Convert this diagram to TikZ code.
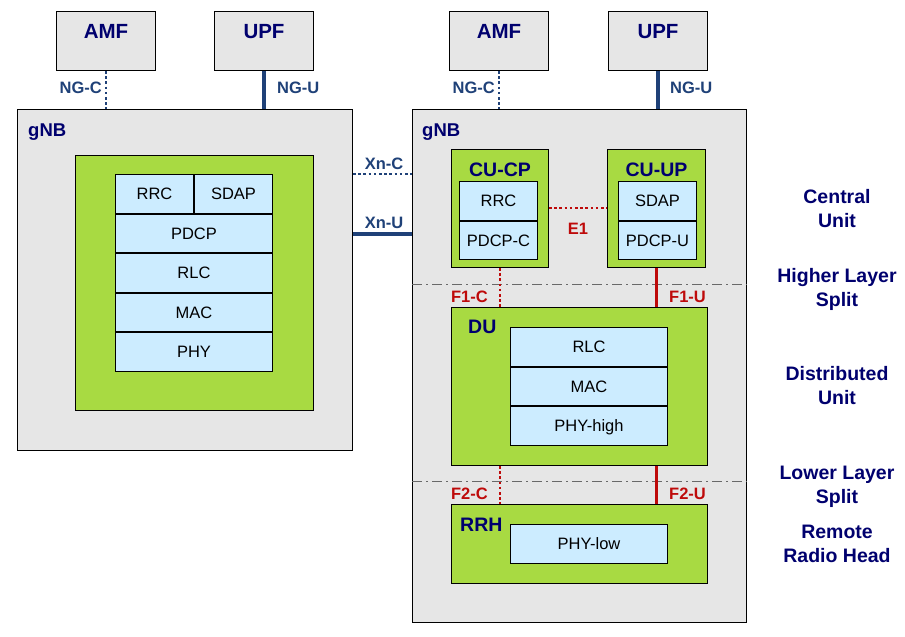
\documentclass[tikz,border=0pt]{standalone}
\usepackage{fontspec}
\setmainfont{Liberation Sans}
\usetikzlibrary{positioning}

\definecolor{coreGray}{RGB}{230,230,230}
\definecolor{ranGreen}{RGB}{168,218,66}
\definecolor{layerBlue}{RGB}{204,236,255}
\definecolor{navy}{RGB}{0,0,110}
\definecolor{ifBlue}{RGB}{31,65,120}
\definecolor{ifRed}{RGB}{190,10,10}
\definecolor{splitGray}{RGB}{105,105,105}

\begin{document}
\begin{tikzpicture}[x=1pt,y=-1pt,every node/.style={inner sep=0pt},
    core/.style={draw,fill=coreGray,line width=1pt,anchor=north west},
    ran/.style={draw,fill=ranGreen,line width=1pt,anchor=north west},
    layer/.style={draw,fill=layerBlue,line width=1pt,minimum width=157,minimum height=38.5,
      text height=12pt,text depth=0pt,font=\fontsize{16.5}{20}\selectfont},
    halflayer/.style={layer,minimum width=78},
    title/.style={text=navy,font=\fontsize{19.5}{23.5}\selectfont\bfseries},
    bigtitle/.style={text=navy,font=\fontsize{20.5}{24}\selectfont\bfseries},
    side/.style={title,align=center,anchor=base},
    ifname/.style={font=\fontsize{16.5}{20}\selectfont\bfseries},
    ctrl/.style={line width=2.6pt,dash pattern=on 2.6pt off 2.6pt},
    user/.style={line width=3.5pt},
    split/.style={splitGray,line width=1pt,dash pattern=on 10pt off 4pt on 2pt off 4pt}]

  \useasboundingbox (0,0) rectangle (905,637);

  % core network
  \node[core,minimum width=99,minimum height=59] (amfL) at (56,11) {};
  \node[core,minimum width=99,minimum height=59] (upfL) at (214,11) {};
  \node[core,minimum width=99,minimum height=59] (amfR) at (449,11) {};
  \node[core,minimum width=99,minimum height=59] (upfR) at (608,11) {};
  \node[bigtitle,anchor=base] (amfLt) at (amfL.north |- 0,38) {AMF};
  \node[bigtitle,anchor=base] (upfLt) at (upfL.north |- 0,38) {UPF};
  \node[bigtitle,anchor=base] (amfRt) at (amfR.north |- 0,38) {AMF};
  \node[bigtitle,anchor=base] (upfRt) at (upfR.north |- 0,38) {UPF};

  % gNB boxes
  \node[core,minimum width=335,minimum height=341] (gnbL) at (17,109) {};
  \node[core,minimum width=334,minimum height=513] (gnbR) at (412,109) {};
  \node[title,anchor=base west,font=\fontsize{18.5}{22}\selectfont\bfseries] (gnbLt) at (28,136) {gNB};
  \node[title,anchor=base west,font=\fontsize{18.5}{22}\selectfont\bfseries] (gnbRt) at (422,136) {gNB};

  % monolithic gNB
  \node[ran,minimum width=238,minimum height=255] (ranL) at (75,155) {};
  \node[halflayer,anchor=north west] (rrcL) at (115,174) {RRC};
  \node[halflayer,right=0pt of rrcL] (sdapL) {SDAP};
  \node[layer,below=0pt of rrcL.south east] (pdcpL) {PDCP};
  \node[layer,below=0pt of pdcpL] (rlcL) {RLC};
  \node[layer,below=0pt of rlcL] (macL) {MAC};
  \node[layer,below=0pt of macL] (phyL) {PHY};

  % split gNB
  \coordinate (hls) at (580,284);
  \coordinate (lls) at (580,481);
  \draw[split] (gnbR.west |- hls) -- (gnbR.east |- hls);
  \draw[split] (gnbR.west |- lls) -- (gnbR.east |- lls);

  \node[ran,minimum width=97,minimum height=118] (cucp) at (451,149) {};
  \node[ran,minimum width=98,minimum height=118] (cuup) at (607,149) {};
  \node[title,anchor=base] (cucpt) at (cucp.north |- 0,176) {CU-CP};
  \node[title,anchor=base] (cuupt) at (cuup.north |- 0,176) {CU-UP};
  \node[halflayer,anchor=north west] (rrcR) at (459,181) {RRC};
  \node[halflayer,below=0pt of rrcR] (pdcpcR) {PDCP-C};
  \node[halflayer,anchor=north west] (sdapR) at (618,181) {SDAP};
  \node[halflayer,below=0pt of sdapR] (pdcpuR) {PDCP-U};
  \draw[line width=2pt] (sdapR.south west) -- (sdapR.south east);

  \node[ran,minimum width=256,minimum height=158] (du) at (451,307) {};
  \node[title,anchor=base west] (dut) at (468,333) {DU};
  \node[layer,anchor=north west] (rlcR) at (510,327) {RLC};
  \node[layer,below=0pt of rlcR] (macR) {MAC};
  \node[layer,below=0pt of macR] (phyhR) {PHY-high};

  \node[ran,minimum width=256,minimum height=79] (rrh) at (451,504) {};
  \node[title,anchor=base west] (rrht) at (460,531) {RRH};
  \node[layer,anchor=north west] (phylR) at (510,524) {PHY-low};

  % interfaces
  \draw[ctrl,ifBlue] (amfL.south) -- (amfL.south |- gnbL.north);
  \draw[user,ifBlue] (upfL.south) -- (upfL.south |- gnbL.north);
  \draw[ctrl,ifBlue] (amfR.south) -- (amfR.south |- gnbR.north);
  \draw[user,ifBlue] (upfR.south) -- (upfR.south |- gnbR.north);
  \node[ifname,text=ifBlue,anchor=base east] (ngcL) at (102,93) {NG-C};
  \node[ifname,text=ifBlue,anchor=base west] (nguL) at (277,93) {NG-U};
  \node[ifname,text=ifBlue,anchor=base east] (ngcR) at (495,93) {NG-C};
  \node[ifname,text=ifBlue,anchor=base west] (nguR) at (670,93) {NG-U};

  \coordinate (xnc) at (382,174);
  \coordinate (xnu) at (382,234);
  \draw[ctrl,ifBlue] (gnbL.east |- xnc) -- (gnbR.west |- xnc);
  \draw[user,ifBlue] (gnbL.east |- xnu) -- (gnbR.west |- xnu);
  \node[ifname,text=ifBlue,anchor=base] (xnct) at (384,169) {Xn-C};
  \node[ifname,text=ifBlue,anchor=base] (xnut) at (384,228) {Xn-U};

  \coordinate (e1) at (578,208);
  \draw[ctrl,ifRed] (cucp.east |- e1) -- (cuup.west |- e1);
  \node[ifname,text=ifRed,anchor=base] (e1t) at (578,234) {E1};

  \draw[ctrl,ifRed] (cucp.south) -- (cucp.south |- du.north);
  \draw[user,ifRed] (cuup.south) -- (cuup.south |- du.north);
  \draw[ctrl,ifRed] (du.south -| cucp.south) -- (rrh.north -| cucp.south);
  \draw[user,ifRed] (du.south -| cuup.south) -- (rrh.north -| cuup.south);
  \node[ifname,text=ifRed,anchor=base east] (f1ct) at (488,302) {F1-C};
  \node[ifname,text=ifRed,anchor=base west] (f1ut) at (669,302) {F1-U};
  \node[ifname,text=ifRed,anchor=base east] (f2ct) at (488,499) {F2-C};
  \node[ifname,text=ifRed,anchor=base west] (f2ut) at (669,499) {F2-U};

  % split legend (base = last line)
  \node[side] (cuLbl) at (837,227) {Central\\Unit};
  \node[side] (hlsLbl) at (837,306) {Higher Layer\\Split};
  \node[side] (duLbl) at (837,404) {Distributed\\Unit};
  \node[side] (llsLbl) at (837,503) {Lower Layer\\Split};
  \node[side] (rrhLbl) at (837,562) {Remote\\Radio Head};

\end{tikzpicture}
\end{document}
